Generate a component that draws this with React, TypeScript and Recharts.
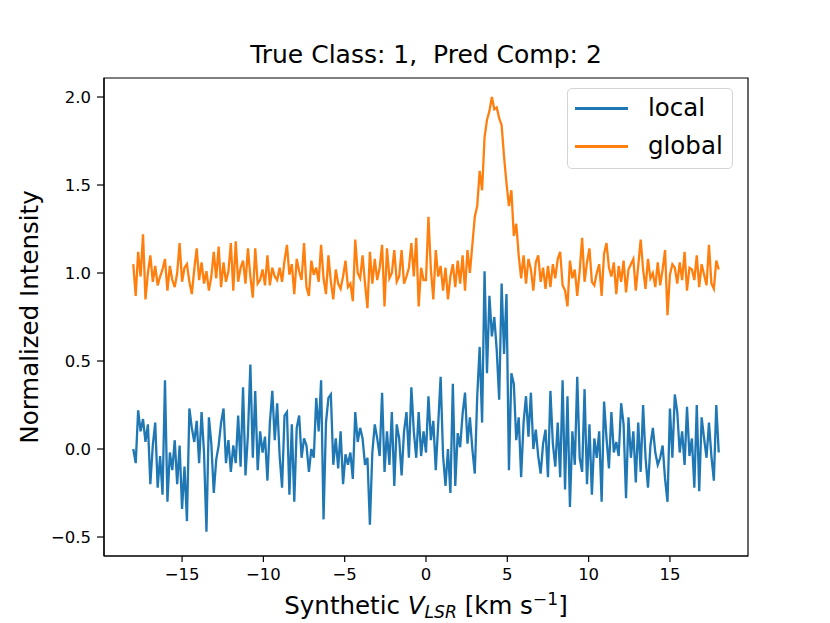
import { LineChart, Line, XAxis, YAxis, ReferenceArea, Legend } from "recharts";

const FONT = '"DejaVu Sans", sans-serif';

// channel velocities (km/s)
const velocity = [
  -18, -17.85, -17.7, -17.55, -17.4, -17.25, -17.1, -16.95, -16.8, -16.65, -16.5, -16.35, -16.2, -16.05, -15.9, -15.75, -15.6, -15.45, -15.3, -15.15,
  -15, -14.85, -14.7, -14.55, -14.4, -14.25, -14.1, -13.95, -13.8, -13.65, -13.5, -13.35, -13.2, -13.05, -12.9, -12.75, -12.6, -12.45, -12.3, -12.15,
  -12, -11.85, -11.7, -11.55, -11.4, -11.25, -11.1, -10.95, -10.8, -10.65, -10.5, -10.35, -10.2, -10.05, -9.9, -9.75, -9.6, -9.45, -9.3, -9.15,
  -9, -8.85, -8.7, -8.55, -8.4, -8.25, -8.1, -7.95, -7.8, -7.65, -7.5, -7.35, -7.2, -7.05, -6.9, -6.75, -6.6, -6.45, -6.3, -6.15,
  -6, -5.85, -5.7, -5.55, -5.4, -5.25, -5.1, -4.95, -4.8, -4.65, -4.5, -4.35, -4.2, -4.05, -3.9, -3.75, -3.6, -3.45, -3.3, -3.15,
  -3, -2.85, -2.7, -2.55, -2.4, -2.25, -2.1, -1.95, -1.8, -1.65, -1.5, -1.35, -1.2, -1.05, -0.9, -0.75, -0.6, -0.45, -0.3, -0.15,
  0, 0.15, 0.3, 0.45, 0.6, 0.75, 0.9, 1.05, 1.2, 1.35, 1.5, 1.65, 1.8, 1.95, 2.1, 2.25, 2.4, 2.55, 2.7, 2.85,
  3, 3.15, 3.3, 3.45, 3.6, 3.75, 3.9, 4.05, 4.2, 4.35, 4.5, 4.65, 4.8, 4.95, 5.1, 5.25, 5.4, 5.55, 5.7, 5.85,
  6, 6.15, 6.3, 6.45, 6.6, 6.75, 6.9, 7.05, 7.2, 7.35, 7.5, 7.65, 7.8, 7.95, 8.1, 8.25, 8.4, 8.55, 8.7, 8.85,
  9, 9.15, 9.3, 9.45, 9.6, 9.75, 9.9, 10.05, 10.2, 10.35, 10.5, 10.65, 10.8, 10.95, 11.1, 11.25, 11.4, 11.55, 11.7, 11.85,
  12, 12.15, 12.3, 12.45, 12.6, 12.75, 12.9, 13.05, 13.2, 13.35, 13.5, 13.65, 13.8, 13.95, 14.1, 14.25, 14.4, 14.55, 14.7, 14.85,
  15, 15.15, 15.3, 15.45, 15.6, 15.75, 15.9, 16.05, 16.2, 16.35, 16.5, 16.65, 16.8, 16.95, 17.1, 17.25, 17.4, 17.55, 17.7, 17.85, 18,
];

const localIntensity = [
  0.0, -0.08, 0.22, 0.1, 0.17, 0.04, 0.14, -0.2, 0.02, 0.15, -0.22, -0.04, -0.26, 0.39, -0.3, -0.02, -0.12, 0.05, -0.2, 0.02,
  -0.34, -0.1, -0.41, 0.23, 0.12, 0.04, 0.16, -0.08, 0.21, -0.02, -0.47, 0.18, 0.03, -0.25, -0.06, 0.02, 0.15, 0.23, -0.08, 0.05,
  -0.13, 0.02, -0.08, 0.19, -0.1, 0.35, -0.15, 0.08, 0.48, -0.05, 0.33, -0.12, 0.1, -0.02, 0.07, -0.18, 0.15, 0.33, 0.05, 0.26,
  -0.04, -0.22, 0.19, 0.21, -0.26, 0.14, -0.3, 0.12, 0.19, -0.05, 0.06, 0.02, -0.13, 0.0, -0.05, 0.29, 0.1, 0.39, -0.4, 0.15,
  0.29, 0.31, -0.09, 0.06, -0.11, 0.1, -0.2, -0.03, -0.09, -0.02, -0.17, 0.21, 0.04, 0.12, 0.06, -0.09, -0.05, -0.43, -0.02, 0.14,
  0.06, -0.04, 0.32, -0.13, 0.1, -0.09, 0.21, -0.21, 0.14, 0.06, -0.15, 0.1, 0.21, -0.05, 0.35, 0.1, -0.05, 0.21, -0.04, 0.1,
  -0.02, 0.3, 0.05, 0.16, -0.12, 0.14, 0.41, -0.04, -0.21, 0.0, -0.25, 0.37, -0.21, 0.09, 0.01, 0.2, 0.32, 0.03, 0.18, 0.0,
  -0.14, 0.3, 0.58, 0.15, 1.01, 0.43, 0.87, 0.64, 0.75, 0.56, 0.28, 0.94, 0.54, 0.88, -0.12, 0.43, 0.37, 0.05, 0.18, -0.16,
  0.15, 0.3, 0.07, 0.32, 0.0, 0.11, -0.04, -0.14, 0.03, 0.11, -0.16, 0.33, 0.03, -0.1, 0.15, -0.16, 0.39, -0.23, 0.3, -0.33,
  0.1, -0.09, 0.41, -0.05, -0.13, 0.34, -0.2, 0.14, -0.26, 0.06, -0.05, 0.1, -0.3, 0.27, 0.06, -0.11, 0.21, -0.02, 0.04, -0.04,
  0.26, 0.14, -0.28, 0.18, -0.05, 0.1, -0.19, 0.15, -0.13, 0.25, -0.05, -0.22, 0.02, 0.12, -0.02, -0.09, -0.05, 0.02, -0.17, -0.3,
  0.23, -0.05, 0.31, 0.21, -0.02, 0.1, -0.09, 0.24, -0.04, 0.06, -0.22, 0.25, -0.24, 0.18, 0.06, -0.05, 0.15, -0.04, -0.18, 0.25, -0.02,
];

const globalIntensity = [
  1.05, 0.87, 1.12, 0.98, 1.22, 0.85, 1.0, 1.1, 0.95, 1.04, 0.93, 0.98, 1.02, 1.08, 0.9, 1.04, 0.96, 0.92, 1.0, 1.17,
  0.95, 1.03, 1.05, 0.95, 0.88, 1.02, 1.14, 0.96, 1.06, 0.94, 1.01, 0.9, 0.98, 1.12, 0.97, 1.15, 0.92, 1.06, 0.95, 1.01,
  1.17, 0.9, 1.18, 0.95, 1.03, 1.07, 0.94, 1.14, 0.98, 0.86, 1.14, 0.94, 0.96, 1.02, 0.93, 1.1, 0.93, 1.03, 0.98, 0.96,
  1.03, 0.95, 1.07, 1.16, 0.99, 1.05, 0.88, 1.08, 1.01, 0.96, 1.17, 0.92, 0.87, 1.07, 0.99, 1.03, 0.95, 1.16, 0.97, 0.88,
  1.1, 0.95, 0.85, 1.02, 0.94, 0.91, 0.98, 1.07, 0.92, 0.94, 0.84, 1.19, 1.0, 0.97, 1.1, 0.94, 0.8, 1.12, 0.94, 1.08,
  0.96, 1.03, 1.16, 0.81, 1.14, 0.97, 1.0, 1.13, 0.95, 0.98, 1.13, 0.94, 0.98, 1.03, 1.17, 0.98, 1.2, 0.81, 1.03, 0.96,
  0.96, 1.32, 1.02, 0.85, 1.13, 0.98, 1.04, 0.9, 1.03, 0.85, 0.98, 1.05, 0.92, 1.07, 0.94, 1.1, 0.9, 1.13, 1.0, 1.16,
  1.32, 1.38, 1.58, 1.47, 1.77, 1.87, 1.92, 2.0, 1.93, 1.94, 1.88, 1.84, 1.66, 1.51, 1.38, 1.47, 1.21, 1.28, 1.1, 0.97,
  1.1, 0.94, 1.08, 1.02, 0.9, 1.06, 1.1, 0.95, 1.03, 0.91, 1.04, 0.92, 1.05, 0.97, 1.08, 1.12, 0.93, 0.9, 0.81, 1.07,
  0.97, 1.02, 0.87, 1.01, 1.2, 0.95, 1.06, 1.14, 0.95, 0.93, 1.0, 1.05, 0.87, 1.11, 1.17, 1.03, 0.98, 1.06, 0.88, 1.04,
  0.95, 1.07, 0.89, 1.02, 1.05, 1.08, 0.9, 1.04, 1.19, 1.02, 0.91, 1.08, 0.97, 1.0, 0.92, 1.06, 0.93, 1.02, 1.13, 0.76,
  0.99, 1.05, 1.03, 0.94, 1.06, 0.96, 1.12, 0.9, 1.03, 1.02, 0.96, 1.1, 0.92, 1.05, 0.99, 0.93, 1.16, 0.94, 0.91, 1.07, 1.02,
];

const seriesOrder = ["local", "global"];
const xTicks = [-15, -10, -5, 0, 5, 10, 15];
const yTicks = [-0.5, 0, 0.5, 1, 1.5, 2];
const xDomain = [-19.8, 19.8];
const yDomain = [-0.608, 2.108];

const data = velocity.map((v, i) => ({
  v,
  local: localIntensity[i],
  global: globalIntensity[i],
}));

// matplotlib style minus sign
const fmt = (n: number, digits: number) => {
  const s = Math.abs(n).toFixed(digits);
  return n < 0 ? "\u2212" + s : s;
};

const tickStyle = { fill: "#000", fontSize: 16.5, fontFamily: FONT };
const lineStyle = { stroke: "#000", strokeWidth: 1.2 };

function LegendBox({ payload }: any) {
  const items = [...(payload || [])].sort(
    (a: any, b: any) => seriesOrder.indexOf(a.value) - seriesOrder.indexOf(b.value)
  );
  return (
    <div
      style={{
        position: "relative",
        width: 166,
        height: 81,
        boxSizing: "border-box",
        border: "1.2px solid #d4d4d4",
        borderRadius: 5,
        background: "rgba(255,255,255,0.8)",
        fontFamily: FONT,
        fontSize: 24.5,
        lineHeight: 1,
        color: "#000",
      }}
    >
      {items.map((item: any, i: number) => (
        <div key={item.value}>
          <div
            style={{
              position: "absolute",
              left: 7,
              top: 18 + i * 38,
              width: 53,
              height: 2.5,
              background: item.color,
            }}
          />
          <span
            style={{
              position: "absolute",
              left: 80,
              top: 7 + i * 38,
              whiteSpace: "nowrap",
            }}
          >
            {item.value}
          </span>
        </div>
      ))}
    </div>
  );
}

export default function App() {
  return (
    <div
      style={{
        position: "absolute",
        left: 0,
        top: 0,
        width: 830,
        height: 623,
        background: "#fff",
        overflow: "hidden",
      }}
    >
      <LineChart
        width={830}
        height={623}
        data={data}
        margin={{ top: 78, right: 82, bottom: 0, left: 0 }}
      >
        <XAxis
          type="number"
          dataKey="v"
          domain={xDomain}
          ticks={xTicks}
          allowDataOverflow
          height={67}
          tickSize={6}
          tickMargin={6}
          tick={tickStyle}
          tickLine={lineStyle}
          axisLine={lineStyle}
          tickFormatter={(t: number) => fmt(t, 0)}
        />
        <YAxis
          type="number"
          domain={yDomain}
          ticks={yTicks}
          allowDataOverflow
          width={104}
          tickSize={7}
          tickMargin={6}
          tick={tickStyle}
          tickLine={lineStyle}
          axisLine={lineStyle}
          tickFormatter={(t: number) => fmt(t, 1)}
        />
        <Line
          type="linear"
          dataKey="local"
          name="local"
          stroke="#1f77b4"
          strokeWidth={2.3}
          dot={false}
          activeDot={false}
          isAnimationActive={false}
        />
        <Line
          type="linear"
          dataKey="global"
          name="global"
          stroke="#ff7f0e"
          strokeWidth={2.3}
          dot={false}
          activeDot={false}
          isAnimationActive={false}
        />
        <ReferenceArea
          x1={xDomain[0]}
          x2={xDomain[1]}
          y1={yDomain[0]}
          y2={yDomain[1]}
          fill="none"
          stroke="#000"
          strokeWidth={1.2}
          ifOverflow="visible"
        />
        <Legend
          align="center"
          verticalAlign="middle"
          layout="vertical"
          content={<LegendBox />}
          wrapperStyle={{ left: 567, top: 88, width: 166, height: 81 }}
        />
      </LineChart>

      <div
        style={{
          position: "absolute",
          left: 126,
          width: 600,
          top: 42,
          textAlign: "center",
          fontFamily: FONT,
          fontSize: 25,
          lineHeight: 1,
          whiteSpace: "pre",
        }}
      >
        {"True Class: 1,  Pred Comp: 2"}
      </div>

      <div
        style={{
          position: "absolute",
          left: 126,
          width: 600,
          top: 594,
          textAlign: "center",
          fontFamily: FONT,
          fontSize: 24.5,
          lineHeight: 1,
          whiteSpace: "nowrap",
        }}
      >
        Synthetic <i>V</i>
        <i style={{ fontSize: "0.7em", position: "relative", top: "0.25em" }}>LSR</i>
        {" [km s"}
        <span style={{ fontSize: "0.7em", position: "relative", top: "-0.55em" }}>{"\u22121"}</span>
        ]
      </div>

      <div
        style={{
          position: "absolute",
          left: 29.5,
          top: 317,
          transform: "translate(-50%, -50%) rotate(-90deg)",
          fontFamily: FONT,
          fontSize: 24.5,
          lineHeight: 1,
          whiteSpace: "nowrap",
        }}
      >
        Normalized Intensity
      </div>
    </div>
  );
}
